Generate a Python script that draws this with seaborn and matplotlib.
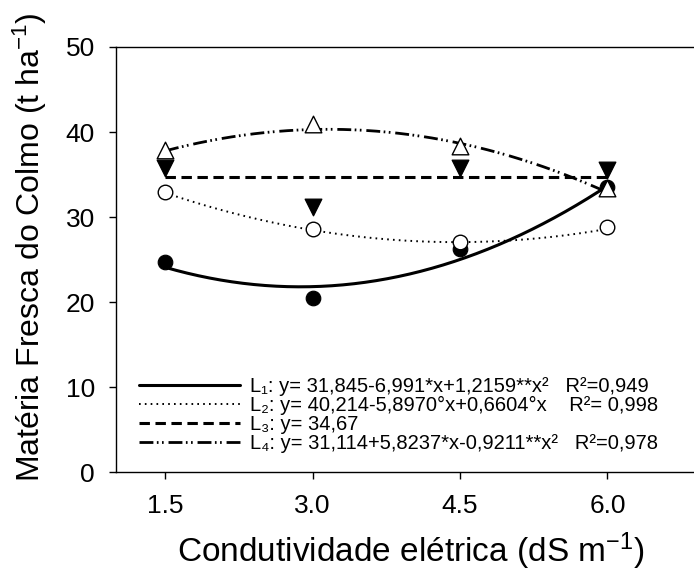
import numpy as np
import pandas as pd
import matplotlib
matplotlib.use("Agg")
import matplotlib.pyplot as plt
import seaborn as sns

# ---- data ----
ce = [1.5, 3.0, 4.5, 6.0]
L1_obs = [24.7, 20.5, 26.3, 33.5]
L2_obs = [33.0, 28.6, 27.1, 28.8]
L3_obs = [35.8, 31.2, 35.8, 35.5]
L4_obs = [37.9, 41.0, 38.3, 33.4]

# regression coefficients (c0, c1, c2) as printed in the legend
L1_coef = [31.845, -6.991, 1.2159]
L2_coef = [40.214, -5.8970, 0.6604]
L3_coef = [34.67, 0.0, 0.0]
L4_coef = [31.114, 5.8237, -0.9211]

labels = [
    "L\u2081: y= 31,845-6,991*x+1,2159**x\u00b2   R\u00b2=0,949",
    "L\u2082: y= 40,214-5,8970°x+0,6604°x    R\u00b2= 0,998",
    "L\u2083: y= 34,67",
    "L\u2084: y= 31,114+5,8237*x-0,9211**x\u00b2   R\u00b2=0,978",
]
xticks = [1.5, 3.0, 4.5, 6.0]
xticklabels = ["1.5", "3.0", "4.5", "6.0"]
yticks = [0, 10, 20, 30, 40, 50]

sns.set_style("ticks")
plt.rcParams["font.family"] = ["Liberation Sans", "DejaVu Sans"]
plt.rcParams["mathtext.fontset"] = "custom"
plt.rcParams["mathtext.rm"] = "Liberation Sans"
plt.rcParams["mathtext.it"] = "Liberation Sans:italic"
plt.rcParams["mathtext.bf"] = "Liberation Sans:bold"
plt.rcParams["lines.scale_dashes"] = False
for k in ["text.color", "axes.labelcolor", "xtick.color", "ytick.color",
          "axes.edgecolor"]:
    plt.rcParams[k] = "black"

fig = plt.figure(figsize=(6.94, 5.73), dpi=100)
ax = fig.add_axes([0.167, 0.176, 0.850, 0.742])

xs = np.linspace(ce[0], ce[-1], 200)

def curve(coef):
    return coef[0] + coef[1] * xs + coef[2] * xs ** 2

styles = [
    dict(linestyle="-", linewidth=2.2),
    dict(linestyle=(0, (1.2, 3.0)), linewidth=1.4),
    dict(linestyle=(0, (7.5, 4.0)), linewidth=2.2),
    dict(linestyle=(0, (10.0, 2.5, 1.2, 2.5, 1.2, 3.5)), linewidth=2.0),
]
coefs = [L1_coef, L2_coef, L3_coef, L4_coef]
handles = []
for coef, st, lab in zip(coefs, styles, labels):
    df = pd.DataFrame({"x": xs, "y": curve(coef)})
    sns.lineplot(data=df, x="x", y="y", ax=ax, color="black", **st)
    handles.append(ax.lines[-1])
    handles[-1].set_label(lab)

ms = 110
sns.scatterplot(x=ce, y=L1_obs, ax=ax, marker="o", s=ms, color="black",
                edgecolor="black", zorder=5)
sns.scatterplot(x=ce, y=L2_obs, ax=ax, marker="o", s=ms, facecolor="white",
                edgecolor="black", linewidth=1.0, zorder=5)
sns.scatterplot(x=ce, y=L3_obs, ax=ax, marker="v", s=ms * 1.3, color="black",
                edgecolor="black", zorder=5)
sns.scatterplot(x=ce, y=L4_obs, ax=ax, marker="^", s=ms * 1.3, facecolor="white",
                edgecolor="black", linewidth=1.0, zorder=5)

ax.set_xlim(1.0, 7.0)
ax.set_ylim(0, 50)
ax.set_xticks(xticks)
ax.set_xticklabels(xticklabels)
ax.set_yticks(yticks)
ax.tick_params(axis="both", direction="out", length=5, width=1.0,
               colors="black", labelsize=19)
ax.tick_params(axis="y", pad=10)
ax.tick_params(axis="x", pad=11)
for side in ["left", "bottom", "top"]:
    ax.spines[side].set_color("black")
    ax.spines[side].set_linewidth(1.0)
ax.spines["right"].set_visible(False)

ax.set_xlabel(r"Condutividade elétrica (dS m$^{-1}$)", fontsize=24, labelpad=9)
ax.set_ylabel(r"Matéria Fresca do Colmo (t ha$^{-1}$)", fontsize=23)
ax.yaxis.set_label_coords(-0.113, 0.529)

ax.legend(handles=handles, loc="lower left", bbox_to_anchor=(0.04, 0.045),
          frameon=False, fontsize=14.5, handlelength=5.0, handletextpad=0.5,
          labelspacing=0.0, borderpad=0, borderaxespad=0)

fig.savefig("out.png", dpi=100)
